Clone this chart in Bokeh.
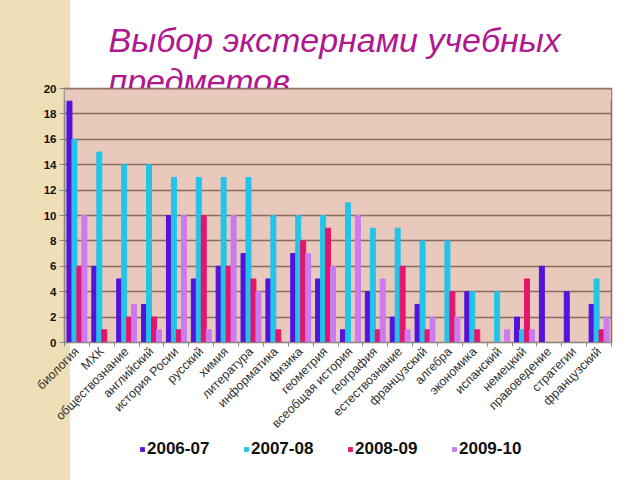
import math
from bokeh.plotting import figure
from bokeh.layouts import column
from bokeh.models import (Range1d, FixedTicker, Title, Legend, LegendItem, ColumnDataSource,
                          BoxAnnotation, Span)
from bokeh.embed import file_html
from bokeh.resources import INLINE

subjects = ["биология", "МХК", "обществознание", "английский", "история Росии", "русский",
            "химия", "литература", "информатика", "физика", "геометрия", "всеобщая история",
            "география", "естествознание", "французский", "алгебра", "экономика", "испанский",
            "немецкий", "правоведение", "стратегии", "французский"]
y2006 = [19, 6, 5, 3, 10, 5, 6, 7, 5, 7, 5, 1, 4, 2, 3, 0, 4, 0, 2, 6, 4, 3]
y2007 = [16, 15, 14, 14, 13, 13, 13, 13, 10, 10, 10, 11, 9, 9, 8, 8, 4, 4, 1, 0, 0, 5]
y2008 = [6, 1, 2, 2, 1, 10, 6, 5, 1, 8, 9, 0, 1, 6, 1, 4, 1, 0, 5, 0, 0, 1]
y2009 = [10, 0, 3, 1, 10, 1, 10, 4, 0, 7, 6, 10, 5, 1, 2, 2, 0, 1, 1, 0, 0, 2]
series_names = ["2006-07", "2007-08", "2008-09", "2009-10"]
colors = ["#5412DC", "#22C4E8", "#E5146C", "#C97BF0"]
y_ticks = list(range(0, 21, 2))
title_lines = ["Выбор экстернами учебных", "предметов"]

n = len(subjects)
FONT = "Liberation Sans"
BG = "#E9C9BC"
BEIGE = "#EEDFB6"
GRID = "#8C6A5C"
series = [y2006, y2007, y2008, y2009]
centers = [i + 0.5 for i in range(n)]
offsets = [-0.3, -0.1, 0.1, 0.3]

p = figure(width=640, height=438, output_backend="svg", toolbar_location=None,
           x_range=Range1d(0, n), y_range=Range1d(0, 20),
           min_border_left=64, min_border_right=29, min_border_top=88, min_border_bottom=96)
p.background_fill_color = BG
p.border_fill_alpha = 0
p.outline_line_color = GRID
p.outline_line_width = 1.5

# title lines (added innermost first)
for line, standoff in [(title_lines[1], -22), (title_lines[0], 24)]:
    t = Title(text=line, align="left", offset=44, text_font=FONT, text_font_size="34px",
              text_font_style="italic", text_color="#B01890", standoff=standoff)
    p.add_layout(t, "above")

for vals, off, col in zip(series, offsets, colors):
    src = ColumnDataSource(dict(x=[c + off for c in centers], top=vals))
    p.vbar(x="x", top="top", width=0.2, source=src, fill_color=col, line_color=col)

# hide the part of the second title line that falls inside the plot area
px_y = 254 / 20
p.add_layout(BoxAnnotation(left=0, right=n, bottom=20 - 11.5 / px_y, top=20, fill_color=BG,
                           fill_alpha=1, line_alpha=0, level="overlay"))
p.add_layout(Span(location=20, dimension="width", line_color=GRID, line_width=2, level="overlay"))

# axes
p.xaxis.ticker = FixedTicker(ticks=centers, minor_ticks=list(range(0, n + 1)))
p.xaxis.major_label_overrides = {c: s for c, s in zip(centers, subjects)}
p.xaxis.major_label_orientation = math.pi / 4
p.xaxis.major_tick_out = 0
p.xaxis.major_tick_in = 0
p.xaxis.minor_tick_out = 4
p.xaxis.minor_tick_in = 0
p.xaxis.minor_tick_line_color = "#888888"
p.xaxis.axis_line_color = "#888888"
p.xaxis.major_label_text_font = FONT
p.xaxis.major_label_text_font_size = "12.5px"
p.xaxis.major_label_text_color = "#333333"
p.xaxis.major_label_standoff = 3

p.yaxis.ticker = FixedTicker(ticks=y_ticks)
p.yaxis.minor_tick_line_color = None
p.yaxis.major_tick_out = 5
p.yaxis.major_tick_in = 0
p.yaxis.major_tick_line_color = "#888888"
p.yaxis.axis_line_color = "#888888"
p.yaxis.major_label_text_font = FONT
p.yaxis.major_label_text_font_size = "11.5px"
p.yaxis.major_label_text_font_style = "bold"
p.yaxis.major_label_text_color = "#111111"
p.yaxis.major_label_standoff = 3

p.xgrid.grid_line_color = None
p.ygrid.grid_line_color = GRID
p.ygrid.grid_line_width = 1.5

# legend strip (its own small figure; its bars lie outside its visible ranges)
lf = figure(width=640, height=42, output_backend="svg", toolbar_location=None,
            x_range=Range1d(100, 101), y_range=Range1d(100, 101),
            x_axis_type=None, y_axis_type=None, min_border=0)
lf.outline_line_color = None
lf.background_fill_alpha = 0
lf.border_fill_alpha = 0
items = []
for nm, vals, off, col in zip(series_names, series, offsets, colors):
    src = ColumnDataSource(dict(x=[c + off for c in centers], top=vals))
    r = lf.vbar(x="x", top="top", width=0.2, source=src, fill_color=col, line_color=None)
    items.append(LegendItem(label=nm, renderers=[r]))

legend = Legend(items=items, orientation="horizontal", location=(75, 21))
legend.glyph_width = 6
legend.glyph_height = 6
legend.label_standoff = 2
legend.label_width = 70
legend.spacing = 26
legend.padding = 0
legend.margin = 0
legend.border_line_color = None
legend.background_fill_alpha = 0
legend.label_text_font = FONT
legend.label_text_font_size = "17px"
legend.label_text_font_style = "bold"
legend.label_text_color = "#111111"
lf.add_layout(legend, "center")

layout = column(p, lf, spacing=0)
layout.styles = {"background": f"linear-gradient(to right, {BEIGE} 0px, {BEIGE} 70px, white 70px, white 100%)"}

open("out.html", "w").write(file_html(layout, INLINE))
